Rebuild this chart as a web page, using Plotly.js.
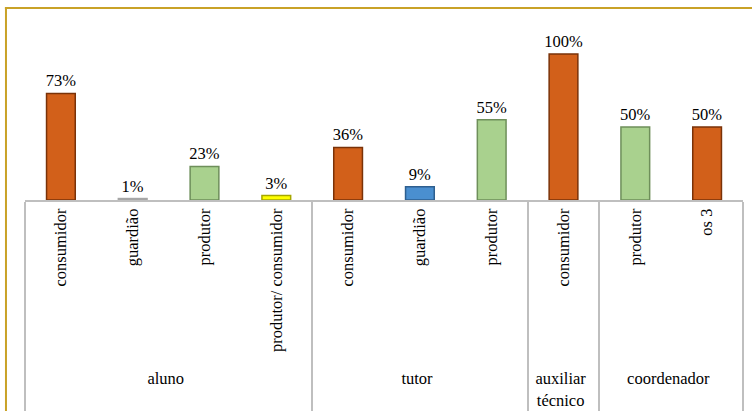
<!DOCTYPE html>
<html>
<head>
<meta charset="utf-8">
<script src="https://cdn.plot.ly/plotly-3.0.1.min.js"></script>
<style>html,body{margin:0;padding:0;background:#fff;}#chart{width:752px;height:411px;}</style>
</head>
<body>
<div id="chart"></div>
<script>
// ---- data ----
const groups = ['aluno','aluno','aluno','aluno','tutor','tutor','tutor','auxiliar<br>técnico','coordenador','coordenador'];
const roles = ['consumidor','guardião','produtor','produtor/ consumidor','consumidor','guardião','produtor','consumidor','produtor','os 3'];
const values = [0.73, 0.01, 0.23, 0.03, 0.36, 0.09, 0.55, 1.00, 0.50, 0.50];

// ---- style ----
const FONT = 'Times New Roman';
const ORANGE = '#D2601A', GREEN = '#A9D18E', BLUE = '#4A8FD0', YELLOW = '#FFFF00', GRAY = '#D9D9D9';
const barColors = [ORANGE, GRAY, GREEN, YELLOW, ORANGE, BLUE, GREEN, ORANGE, GREEN, ORANGE];
const edgeColors = ['#7A3208','#A6A6A6','#6E8F5A','#A6A600','#7A3208','#2E5F8F','#6E8F5A','#7A3208','#6E8F5A','#7A3208'];

const trace = {
  type: 'bar',
  x: [groups, roles],
  y: values,
  marker: {color: barColors, line: {color: edgeColors, width: 1.5}},
  texttemplate: '%{y:.0%}',
  textposition: 'outside',
  constraintext: 'none',
  cliponaxis: false,
  textfont: {family: FONT, size: 16.5, color: '#000'},
  hoverinfo: 'skip'
};

const layout = {
  width: 752, height: 411,
  margin: {l: 25, r: 9, t: 8, b: 211},
  paper_bgcolor: '#fff', plot_bgcolor: '#fff',
  showlegend: false,
  bargap: 0.6,
  font: {family: FONT, size: 16.5, color: '#000'},
  xaxis: {
    type: 'multicategory',
    tickangle: -90,
    showline: true, linecolor: '#BFBFBF', linewidth: 2,
    showdividers: true, dividercolor: '#BFBFBF', dividerwidth: 2,
    ticks: '', showgrid: false,
    tickfont: {family: FONT, size: 16.5, color: '#000'}
  },
  yaxis: {range: [0, 1.315], visible: false, showgrid: false, zeroline: false},
  shapes: [
    {type: 'line', xref: 'paper', yref: 'paper', x0: -0.028, x1: 1.02, y0: 1, y1: 1, line: {color: '#C9A227', width: 2}},
    {type: 'line', xref: 'paper', yref: 'paper', x0: -0.0265, x1: -0.0265, y0: 1, y1: -1.2, line: {color: '#C9A227', width: 2}}
  ]
};

Plotly.newPlot('chart', [trace], layout, {displayModeBar: false, staticPlot: true});
</script>
</body>
</html>
